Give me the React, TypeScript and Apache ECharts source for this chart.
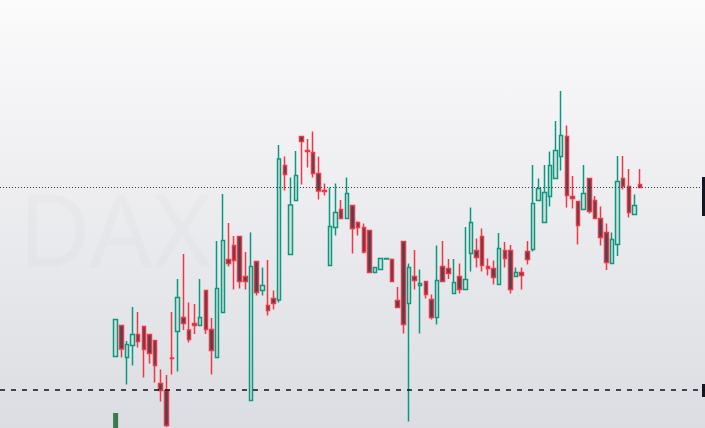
import React, { useEffect, useRef } from "react";
import * as echarts from "echarts";

// OHLC values (94 candles)
const opens = [16143,16205,16141,16165,16187,16203,16187,16175,16089,16075,16140,16193,16221,16196,16209,16205,16275,16197,16141,16231,16337,16365,16383,16303,16055,16333,16275,16245,16259,16256,16525,16347,16455,16583,16555,16551,16509,16475,16325,16401,16437,16419,16445,16411,16401,16395,16311,16317,16338,16337,16255,16373,16249,16303,16285,16293,16257,16221,16323,16319,16269,16303,16277,16349,16355,16383,16323,16319,16287,16355,16355,16303,16311,16353,16357,16455,16411,16463,16499,16543,16583,16463,16453,16437,16499,16455,16419,16391,16329,16367,16499,16483,16427,16487];
const closes = [16217,16158,16167,16187,16173,16157,16149,16125,16075,16005,16139,16261,16209,16177,16205,16221,16197,16155,16279,16375,16329,16335,16293,16293,16323,16271,16285,16235,16249,16538,16507,16446,16505,16573,16553,16509,16474,16473,16403,16431,16419,16469,16399,16401,16352,16311,16321,16339,16339,16293,16241,16207,16321,16295,16289,16267,16221,16295,16293,16309,16291,16277,16297,16411,16341,16325,16319,16301,16359,16339,16277,16311,16305,16337,16449,16479,16471,16525,16555,16585,16465,16459,16405,16469,16433,16419,16381,16331,16377,16493,16483,16431,16445,16481];
const lows = [16143,16141,16087,16125,16161,16101,16129,16091,16053,16002,16107,16113,16196,16171,16188,16205,16188,16107,16141,16231,16323,16277,16279,16277,16055,16265,16265,16225,16237,16251,16475,16347,16455,16487,16521,16501,16457,16465,16325,16385,16419,16419,16349,16385,16349,16311,16311,16317,16338,16293,16241,16189,16013,16277,16189,16259,16217,16207,16293,16298,16269,16269,16277,16313,16321,16313,16305,16287,16287,16321,16269,16303,16277,16327,16353,16455,16411,16443,16499,16515,16441,16439,16367,16437,16429,16419,16365,16316,16329,16344,16477,16421,16427,16481];
const highs = [16217,16205,16174,16242,16232,16203,16187,16175,16117,16106,16232,16298,16348,16251,16248,16298,16275,16220,16374,16468,16410,16384,16383,16352,16391,16333,16321,16336,16275,16566,16543,16501,16554,16583,16578,16593,16543,16489,16481,16489,16456,16501,16445,16413,16409,16395,16321,16339,16339,16339,16282,16373,16329,16356,16317,16293,16267,16365,16374,16338,16338,16329,16402,16441,16379,16399,16339,16335,16390,16372,16366,16321,16321,16374,16526,16499,16526,16553,16614,16674,16605,16504,16453,16526,16499,16464,16443,16409,16391,16544,16544,16518,16467,16518];
const volumes = [15];

const LEAD = 20; // empty slots before first candle
const TRAIL = 11; // empty slots after last candle
const lastPrice = 16482;
const levelPrice = 16076;

export default function App() {
  const ref = useRef<HTMLDivElement>(null);
  useEffect(() => {
    if (!ref.current) return;
    const chart = echarts.init(ref.current, null, { renderer: "svg" });
    const total = LEAD + opens.length + TRAIL;
    const cats = Array.from({ length: total }, (_, i) => String(i));
    const candleData: any[] = [];
    const volData: any[] = [];
    for (let i = 0; i < total; i++) {
      const k = i - LEAD;
      if (k >= 0 && k < opens.length) {
        candleData.push([opens[k], closes[k], lows[k], highs[k]]);
        volData.push(k < volumes.length ? volumes[k] : "-");
      } else {
        candleData.push(["-", "-", "-", "-"]);
        volData.push("-");
      }
    }
    chart.setOption({
      animation: false,
      backgroundColor: "transparent",
      grid: { left: -2, right: -2, top: 0, bottom: 0 },
      xAxis: {
        type: "category",
        data: cats,
        show: false,
        boundaryGap: true,
      },
      yAxis: [
        { type: "value", min: 16000, max: 16856, show: false, splitLine: { show: false } },
        { type: "value", min: 0, max: 428, show: false, splitLine: { show: false } },
      ],
      graphic: [
        {
          type: "text",
          left: 18,
          top: 178,
          silent: true,
          style: {
            text: "DAX",
            font: "100px 'Noto Sans'",
            fill: "rgba(120,123,134,0.03)",
          },
        },
        { type: "rect", right: 0, top: 177, shape: { width: 3, height: 39 }, style: { fill: "#131722" } },
        { type: "rect", right: 0, top: 384, shape: { width: 3, height: 13 }, style: { fill: "#131722" } },
      ],
      series: [
        {
          type: "bar",
          yAxisIndex: 1,
          data: volData,
          barWidth: 5,
          itemStyle: { color: "#3b7a4c" },
          silent: true,
        },
        {
          type: "candlestick",
          data: candleData,
          barWidth: 4,
          itemStyle: {
            color: "#d6dcd9",
            color0: "#434651",
            borderColor: "#089981",
            borderColor0: "#f23645",
            borderColorDoji: "#089981",
            borderWidth: 1.5,
          },
          markLine: {
            silent: true,
            symbol: "none",
            label: { show: false },
            data: [
              { yAxis: lastPrice, lineStyle: { color: "#3a3a3a", type: [1, 2], width: 1 } },
              { yAxis: levelPrice, lineStyle: { color: "#111111", type: [5, 6], width: 1.5 } },
            ],
          },
        },
      ],
    });
    return () => chart.dispose();
  }, []);
  return (
    <div
      ref={ref}
      style={{
        position: "fixed",
        left: 0,
        top: 0,
        width: 705,
        height: 428,
        background: "linear-gradient(#fbfbfc, #dcdde2)",
      }}
    />
  );
}
